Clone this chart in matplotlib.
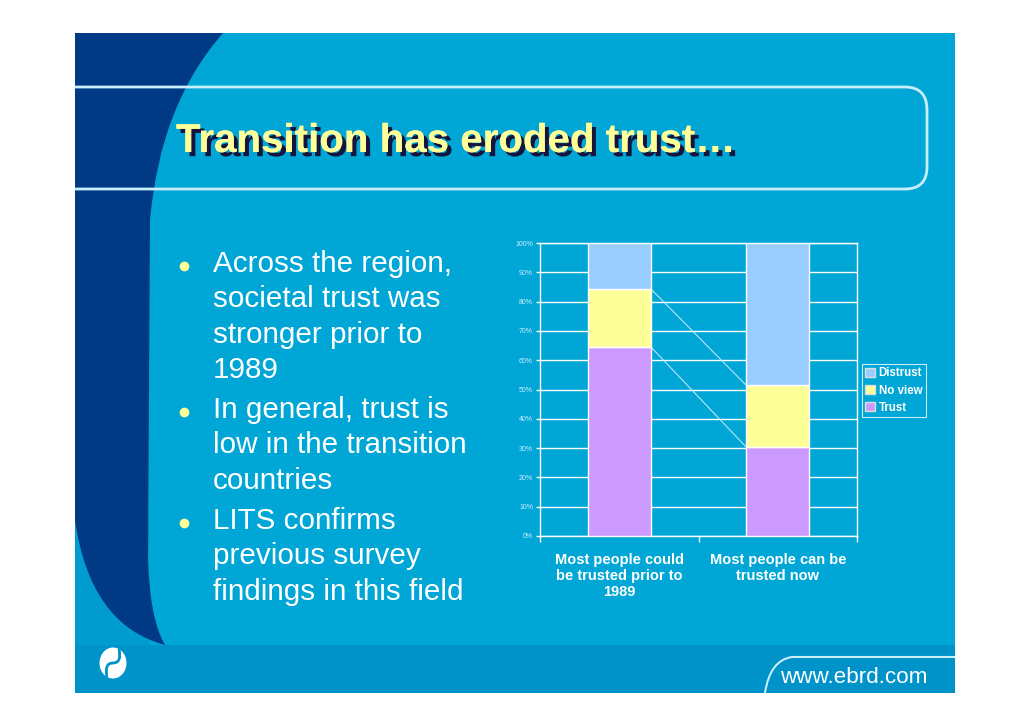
import numpy as np
import matplotlib.pyplot as plt
import matplotlib.patheffects as pe
from matplotlib.patches import Rectangle, PathPatch, Ellipse
from matplotlib.path import Path

plt.rcParams['font.family'] = ['Liberation Sans', 'DejaVu Sans']

# chart data (shares of respondents)
categories = ["Most people could\nbe trusted prior to\n1989", "Most people can be\ntrusted now"]
series_names = ["Trust", "No view", "Distrust"]
trust = [0.645, 0.304]
no_view = [0.198, 0.211]
distrust = [0.157, 0.485]
colors = ["#CC99FF", "#FFFF99", "#99CCFF"]

title = "Transition has eroded trust…"
bullets = [
    ["Across the region,", "societal trust was", "stronger prior to", "1989"],
    ["In general, trust is", "low in the transition", "countries"],
    ["LITS confirms", "previous survey", "findings in this field"],
]

MAIN = "#00A6D6"
BAND = "#0093C9"
NAVY = "#003A84"
LINE = "#C9EEFB"

fig = plt.figure(figsize=(10.3, 7.28), dpi=100)
fig.patch.set_facecolor("white")

# slide decoration in pixel coordinates
bg = fig.add_axes([0, 0, 1, 1])
bg.set_xlim(0, 1030)
bg.set_ylim(728, 0)
bg.axis("off")

bg.add_patch(Rectangle((75, 33), 880, 660, facecolor=BAND, edgecolor="none"))
bg.add_patch(Rectangle((75, 33), 880, 612, facecolor=MAIN, edgecolor="none"))
bg.add_patch(Rectangle((75, 520), 74, 125, facecolor="#009CCF", edgecolor="none"))

C3 = Path.CURVE3
navy = Path(
    [(75, 33), (223, 33), (160, 105), (150, 220), (148, 560), (150, 620), (165, 645),
     (90, 625), (75, 520), (75, 33)],
    [Path.MOVETO, Path.LINETO, C3, C3, Path.LINETO, C3, C3, C3, C3, Path.CLOSEPOLY])
bg.add_patch(PathPatch(navy, facecolor=NAVY, edgecolor="none"))

# title frame
frame = Path(
    [(75, 87), (905, 87), (927, 87), (927, 110), (927, 167), (927, 189), (905, 189), (75, 189)],
    [Path.MOVETO, Path.LINETO, C3, C3, Path.LINETO, C3, C3, Path.LINETO])
bg.add_patch(PathPatch(frame, facecolor="none", edgecolor=LINE, lw=2))

bg.text(176, 152, title, fontsize=29, fontweight="bold", color="#FFFF99",
        ha="left", va="baseline",
        path_effects=[pe.withSimplePatchShadow(offset=(3, -3), shadow_rgbFace="#14143C", alpha=1),
                      pe.Normal()])

# bullet points
starts = [272, 418, 529]
for group, y0 in zip(bullets, starts):
    bg.plot([184], [y0 - 6], "o", ms=7, color="#FFFF99", mec="none")
    for i, line in enumerate(group):
        bg.text(213, y0 + i * 35.3, line, fontsize=21.3, color="white", ha="left", va="baseline")

# footer
tab = Path([(765, 693), (770, 660), (792, 657), (955, 657)],
           [Path.MOVETO, C3, C3, Path.LINETO])
bg.add_patch(PathPatch(tab, facecolor="none", edgecolor=LINE, lw=1.5))
bg.text(780, 683, "www.ebrd.com", fontsize=16.2, color="white", ha="left", va="baseline")

bg.add_patch(Ellipse((113, 663), 27, 31, facecolor="white", edgecolor="none"))
logo = Path([(107, 677), (104, 663), (113, 663), (122, 663), (119, 649)],
            [Path.MOVETO, C3, C3, C3, C3])
bg.add_patch(PathPatch(logo, facecolor="none", edgecolor=BAND, lw=2))

# stacked bar chart
ax = fig.add_axes([540 / 1030, 1 - 536 / 728, 317 / 1030, 293 / 728])
ax.set_facecolor("none")
x = np.arange(len(categories))
w = 0.4
bottom = np.zeros(len(categories))
tops = []
for name, vals, c in zip(series_names, [trust, no_view, distrust], colors):
    ax.bar(x, vals, w, bottom=bottom, color=c, edgecolor="white", lw=1, label=name, zorder=3)
    bottom = bottom + np.array(vals)
    tops.append(bottom.copy())

# series lines between bars
for t in tops[:-1]:
    ax.plot([x[0] + w / 2, x[1] - w / 2], [t[0], t[1]], color="#B8E6F8", lw=0.8, zorder=2)

ax.set_xlim(-0.5, 1.5)
ax.set_ylim(0, 1)
ax.set_yticks(np.arange(0, 1.01, 0.1))
ax.set_yticklabels([f"{int(round(v * 100))}%" for v in np.arange(0, 1.01, 0.1)])
ax.yaxis.grid(True, color="white", lw=1)
ax.set_axisbelow(True)
for s in ax.spines.values():
    s.set_color("white")
    s.set_linewidth(1)
ax.tick_params(axis="y", colors="white", length=3, width=1, labelsize=5, labelcolor="#CDEEFF", pad=2)

ax.set_xticks([-0.5, 0.5, 1.5])
ax.set_xticklabels([])
ax.tick_params(axis="x", which="major", colors="white", length=4, width=1)
ax.set_xticks(x, minor=True)
ax.set_xticklabels(categories, minor=True, fontsize=10.5, fontweight="bold", color="white",
                   linespacing=1.2)
ax.tick_params(axis="x", which="minor", length=0, pad=12)

h, l = ax.get_legend_handles_labels()
leg = ax.legend(h[::-1], l[::-1], loc="upper left", bbox_to_anchor=(862 / 1030, 1 - 364 / 728),
                bbox_transform=fig.transFigure, fontsize=8.3, frameon=True, fancybox=False,
                handlelength=0.8, handleheight=0.8, handletextpad=0.35, borderpad=0.3,
                labelspacing=0.45, borderaxespad=0)
leg.get_frame().set_facecolor("none")
leg.get_frame().set_edgecolor("white")
leg.get_frame().set_linewidth(0.8)
for t in leg.get_texts():
    t.set_color("white")
    t.set_fontweight("bold")
for p in leg.get_patches():
    p.set_edgecolor("#DDDDDD")

fig.savefig("out.png", dpi=100, facecolor=fig.get_facecolor())
